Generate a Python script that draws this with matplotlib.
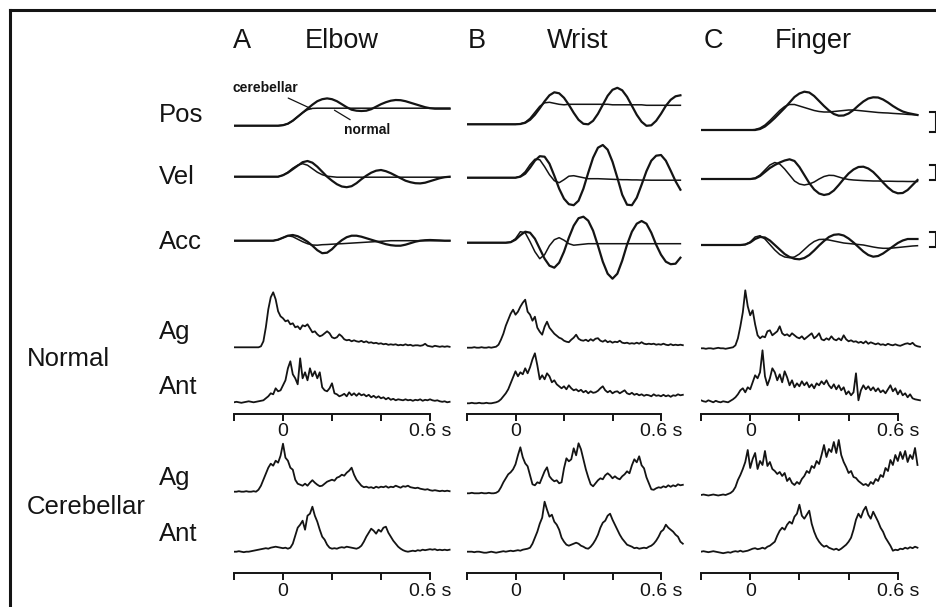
import numpy as np
import matplotlib.pyplot as plt
from matplotlib.lines import Line2D

plt.rcParams['font.family'] = ['Liberation Sans', 'DejaVu Sans']

# ---- kinematics, one sample every 20 ms starting at -0.2 s (amplitude, arbitrary units) ----
elbow_pos_normal = [0, 0, 0, 0, 0, 0, 0, 0, 0, 0,
                    0.5, 2, 5, 9, 13, 16, 17.3, 17.5, 17.5, 17.5, 17.5, 17.5, 17.5, 17.5, 17.5,
                    17.5, 17.5, 17.5, 17.5, 17.5, 17.5, 17.5, 17.5, 17.5, 17.5, 17.5, 17.5, 17.5,
                    17.5, 17.5, 17.5, 17.5, 17.5, 17.5, 17.5]
elbow_pos_cereb = [0, 0, 0, 0, 0, 0, 0, 0, 0, 0,
                   0.5, 2, 5, 9, 13, 17, 21, 24.5, 26.5, 27.3, 26.5, 24.5, 21.5, 18.5, 16,
                   15, 14.7, 15, 16.5, 19, 21.5, 23.5, 25, 25.7, 25.5, 24.5, 23, 21.5, 20,
                   18.5, 17.5, 17, 17, 17, 17]
elbow_vel_normal = [0, 0, 0, 0, 0, 0, 0, 0, 0, 0,
                    1.5, 4.5, 8.5, 11.5, 13, 11.5, 8, 4.5, 2, 0.5, 0, -0.5, -0.5, -0.5, -0.5,
                    -0.5, -0.5, -0.5, -0.5, -0.5, -0.5, -0.5, -0.5, -0.5, -0.5, -0.5, -0.5, -0.5,
                    -0.5, -0.5, -0.5, -0.5, -0.5, -0.5, -0.5]
elbow_vel_cereb = [0, 0, 0, 0, 0, 0, 0, 0, 0, 0,
                   1.5, 4, 7.5, 11, 14.5, 15.7, 14, 10, 5, 0, -4, -7.5, -9.8, -10.5, -9.5,
                   -6.5, -2.5, 1, 4, 6, 6.7, 5.5, 3.5, 1, -1.5, -4, -5.5, -6.5, -6.7,
                   -6, -4.5, -3, -1.5, -0.5, 0]
elbow_acc_normal = [0, 0, 0, 0, 0, 0, 0, 0, 0, 1,
                    3, 5, 4, 1.5, -1, -3, -4.3, -4.5, -4, -3.8, -3.5, -3.2, -3, -2.7, -2.4,
                    -2.1, -1.8, -1.5, -1.2, -0.9, -0.6, -0.3, 0, 0, 0, 0, 0, 0, 0,
                    0, 0, 0, 0, 0, 0]
elbow_acc_cereb = [0, 0, 0, 0, 0, 0, 0, 0, 0, 1,
                   3, 5, 5.7, 4.5, 2, -1, -5, -9.5, -12.5, -12, -8.5, -3.5, 0.5, 3.5, 5,
                   5, 4, 2.5, 1, -0.5, -2, -3.5, -4.5, -5, -5, -4, -2.5, -1, 0,
                   0.5, 0.7, 0.5, 0.3, 0, 0]

wrist_pos_normal = [0, 0, 0, 0, 0, 0, 0, 0, 0, 0,
                    0, 0.5, 2, 6, 12, 18, 21.5, 22, 21, 20, 19.5, 20, 20, 20, 20,
                    20, 20, 20, 20, 20, 19.5, 19.5, 19.5, 19.5, 19.5, 19.5, 19.5, 19, 19,
                    19, 19, 19, 19, 19, 19]
wrist_pos_cereb = [0, 0, 0, 0, 0, 0, 0, 0, 0, 0,
                   0, 0.3, 1.5, 4.5, 9.5, 16, 23, 29, 32, 31, 26.5, 19.5, 11.5, 4.5, 0.5,
                   0, 3.5, 10.5, 19.5, 28.5, 34.5, 36.5, 34, 27.5, 18.5, 9.5, 2.5, -1.5, -1,
                   3.5, 10.5, 18.5, 24.5, 28, 29]
wrist_vel_normal = [0, 0, 0, 0, 0, 0, 0, 0, 0, 0,
                    0, 1.5, 6, 13, 18.5, 18, 11, 3, -3, -5, -2, 1.5, 2, 1, 0,
                    -1, -1, -1, -1.2, -1.4, -1.6, -1.8, -2, -2, -2.2, -2.2, -2.4, -2.4, -2.5,
                    -2.5, -2.5, -2.5, -2.5, -2.5, -2.5]
wrist_vel_cereb = [0, 0, 0, 0, 0, 0, 0, 0, 0, 0,
                   0, 1, 4, 10, 17, 21.5, 21, 14, 2, -11, -21, -26.5, -27.5, -23, -11,
                   5, 20, 30, 32.7, 28, 16, 0, -17, -27, -27.5, -20, -7, 6.5, 17,
                   22, 22.7, 17, 7, -3.5, -12]
wrist_acc_normal = [0, 0, 0, 0, 0, 0, 0, 0, 0, 0.5,
                    4, 11, 10, 1, -9, -16, -12, -3, 3, 5, 2.5, -1, -2.5, -2, -1.5,
                    -1, -1, -1, -1, -1, -1, -1, -1, -1, -1, -1, -1, -1, -1,
                    -1, -1, -1, -1, -1, -1]
wrist_acc_cereb = [0, 0, 0, 0, 0, 0, 0, 0, 0, 0.5,
                   3, 7.5, 11, 10, 4, -6, -16, -23, -25, -20, -9, 5, 17, 24.5, 26,
                   22, 12, -3, -19, -31, -36, -31, -18, -2, 11, 19, 21.7, 19, 10,
                   -2, -12, -19, -21.5, -21, -15]

finger_pos_normal = [0, 0, 0, 0, 0, 0, 0, 0, 0, 0,
                     0, 0.5, 2, 5, 9.5, 14.5, 19.5, 23.5, 25.5, 25.5, 24, 22.5, 21, 19.5, 18.5,
                     18, 18, 18.5, 19, 19.5, 20, 20, 19.5, 19, 18.5, 18, 17.5, 17.2, 17,
                     16.6, 16.3, 16, 15.6, 15.3, 15]
finger_pos_cereb = [0, 0, 0, 0, 0, 0, 0, 0, 0, 0,
                    0, 0, 1, 3.5, 7.5, 12, 17, 22, 27.5, 33, 36.5, 38.3, 37.5, 34, 29,
                    24, 19.5, 16, 14.3, 14.5, 16.5, 20, 24.5, 28.5, 31.5, 32.7, 32.5, 30.5, 27.5,
                    24, 21, 18.5, 17, 16, 15]
finger_vel_normal = [0, 0, 0, 0, 0, 0, 0, 0, 0, 0,
                     0, 1, 4, 9, 14, 16.5, 15, 10, 4, -2, -5, -6, -5, -3, 0,
                     2.5, 3.7, 3.5, 2, 0.5, -0.5, -1, -1.3, -1.6, -1.8, -2, -2, -2.2, -2.2,
                     -2.3, -2.4, -2.4, -2.5, -2.5, -2.5]
finger_vel_cereb = [0, 0, 0, 0, 0, 0, 0, 0, 0, 0,
                    0, 0.5, 3, 7, 11, 14, 16.5, 18.5, 19.7, 18, 12, 4, -4, -10.5, -14.5,
                    -16, -15, -11.5, -6, 0, 5.5, 9.5, 12, 12.3, 10.5, 7, 2, -3.5, -8.5,
                    -12.5, -14.3, -14, -11, -6, -1]
finger_acc_normal = [0, 0, 0, 0, 0, 0, 0, 0, 0, 0.5,
                     3, 8, 9.3, 6, 0.5, -5, -9.5, -12, -12.7, -12, -9, -4.5, 0, 3.5, 5.5,
                     5.7, 5, 4, 3, 2, 1.5, 1, 0.5, 0, -1, -2, -2.8, -3.3, -3.3,
                     -3, -2.5, -2, -1.5, -1, -0.7]
finger_acc_cereb = [0, 0, 0, 0, 0, 0, 0, 0, 0, 0.5,
                    2.5, 6, 8, 7.5, 4.5, 0, -4.5, -9, -12, -13.8, -14.3, -13, -10, -5.5, -0.5,
                    4, 8, 10.2, 10.7, 9.5, 6.5, 2.5, -2, -6.5, -10, -11.7, -11, -8.5, -5,
                    -1.5, 2, 4.5, 6, 6, 6]

# ---- rectified EMG, one sample every 10 ms starting at -0.2 s ----
elbow_ag_normal = [0, 0, 0, 0, 0, 0, 0, 0, 0, 0, 0,
                   1, 6, 20, 38, 50, 55, 48, 36, 31, 29, 26, 27, 23, 24, 20, 21, 18, 22, 21,
                   23, 19, 15, 16, 13, 11, 12, 14, 16, 14, 10, 9, 10, 13, 11, 8, 7, 7.5, 6,
                   7, 6, 5.5, 6.5, 5, 6, 4.5, 5, 4, 4.5, 3.5, 4, 3, 3.5, 2.5, 3, 2.5, 3,
                   2, 2.5, 2, 3, 2, 2.5, 1.5, 2, 2, 1.5, 2, 3.5, 1.5, 1, 0.5, 1.5, 1, 0.5,
                   1, 0.5, 1, 0.5]
elbow_ant_normal = [0, 0.5, 0, -0.5, 0, 0.5, 1, 0.5, 0, 0.5, 1, 1.5,
                    2, 4, 6, 9, 8, 14, 11, 12, 17, 22, 34, 41, 28, 24, 18, 44, 24, 30,
                    22, 34, 26, 31, 24, 30, 15, 12, 11, 14, 19, 9, 8, 6, 7, 8.5, 6, 10, 7,
                    9, 6.5, 9, 7, 8, 6, 7.5, 5, 6.5, 4.5, 6, 4, 5, 3, 4.5, 2.5, 3.5, 2,
                    3, 2.5, 2, 3, 2, 2.5, 1.5, 2.5, 2, 3, 1.5, 2.5, 2, 3, 2, 1.5, 2, 1,
                    0.5, 1, 0, 0.5]
elbow_ag_cereb = [0, 0, 0.5, 0, 0, 0.5, 0, 0, 0.5, 0,
                  2, 6, 12, 18, 24, 28, 26, 31, 29, 36, 48, 34, 31, 24, 22, 12, 8, 7, 6,
                  8, 6, 9, 11.5, 9, 7, 5.5, 6, 8, 10, 11, 12, 11, 14, 15, 17, 16, 19, 21,
                  24, 17, 12, 9, 6, 4.5, 5, 4, 4.5, 3.5, 5, 4, 5, 4.5, 5.5, 4, 5, 4.5, 6,
                  5, 4, 5.5, 5, 6, 4.5, 4, 3.5, 4, 3, 2.5, 2, 2.5, 1.5, 1, 1.5, 1, 0.5,
                  1, 0.5, 1, 0.5]
elbow_ant_cereb = [0, 0, 0.5, 0, -0.5, 0, 0, 0.5, 1, 1.5, 2, 2.5, 3, 3.5, 3, 4, 4.5, 5,
                   4.5, 4,
                   3.5, 4, 3, 4, 8, 16, 24, 27, 31, 22, 36, 38, 45, 36, 30, 22, 15, 12, 7,
                   4, 3, 3.5, 3, 4, 4.5, 4, 5, 4.5, 4, 3.5, 3, 4, 6, 10, 15, 19, 23, 21,
                   18, 22, 20, 24, 25, 19, 15, 11, 8, 5, 3, 1.5, 0.5, 0, 0.5, 1, 0.5, 1.5,
                   1, 2, 1.5, 2, 2.5, 2, 2.5, 1.5, 2, 1.5, 2, 1.5, 2]

wrist_ag_normal = [0, 0, 0, 0.5, 0, 0, 0.5, 0, 0, 0.5, 0, 0.5, 1,
                   3, 8, 14, 22, 28, 34, 38, 33, 36, 41, 45, 48, 36, 33, 27, 31, 20, 16,
                   13, 21, 26, 20, 17, 14, 12, 10, 9, 7, 6, 5.5, 8, 10, 13, 9, 7.5, 7, 8,
                   6.5, 8.5, 7, 9, 9.5, 7, 6, 7.5, 5.5, 6.5, 5, 6, 5.5, 7, 5, 4.5, 5, 4,
                   4.5, 4, 5, 4, 5.5, 4, 3.5, 4, 3.5, 4, 3, 3.5, 3, 4, 3, 2.5, 3.5, 2.5,
                   3, 2.5, 3, 2.5]
wrist_ant_normal = [0, 0, 0.5, 0, 0, 0.5, 0, 0, 0.5, 0, 0, 0.5, 1, 2,
                    4, 7, 10, 14, 20, 26, 32, 27, 31, 29, 35, 30, 36, 44, 50, 38, 24, 28,
                    24, 30, 27, 21, 23, 19, 17, 15, 17, 14, 18, 15, 13, 14, 12, 13.5, 11,
                    12.5, 10, 12, 10.5, 11, 12.5, 15, 17, 13, 11, 12.5, 10, 11.5, 12, 10,
                    11.5, 13, 10, 9, 10.5, 8.5, 9.5, 8, 9, 7.5, 8.5, 8, 7, 9, 7.5, 8, 7,
                    8.5, 7, 8, 6.5, 8, 7.5, 9, 8, 8.5]
wrist_ag_cereb = [0, 0, 0.5, 0, 0, 0, 0.5, 0, 0, 0.5, 0, 0, 0.5,
                  2, 6, 11, 15, 19, 21, 24, 29, 38, 46, 36, 30, 27, 18, 9, 8, 11, 10, 16,
                  22, 26, 17, 14, 12, 13, 10, 11, 25, 35, 32, 34, 45, 38, 50, 44, 34, 24,
                  16, 9, 7, 10, 13, 15, 14, 18, 20, 18, 15, 17, 15, 14, 17, 19, 22, 20,
                  28, 34, 31, 37, 28, 25, 16, 10, 4, 3.5, 5, 6, 5.5, 7, 6, 8, 6.5, 8, 7,
                  9, 8, 8.5]
wrist_ant_cereb = [0, 0, 0, -0.5, 0, 0, -0.5, -1, -1, -0.5, 0, -0.5, -1, -0.5, 0, 0.5,
                   0, 0.5, 1, 0.5, 1, 1.5, 1, 2, 2.5, 3,
                   4, 8, 14, 20, 28, 34, 50, 42, 35, 37, 30, 27, 22, 14, 10, 7, 6, 7, 8,
                   9, 8, 6, 5, 3.5, 3, 5, 8, 12, 17, 24, 29, 31, 36, 38, 32, 27, 22, 17,
                   13, 10, 7, 6, 5, 3.5, 4, 3, 3.5, 4, 3.5, 5, 6, 8, 11, 15, 20, 22, 27,
                   24, 22, 20, 17, 15, 10, 8]

finger_ag_normal = [0, 0, -0.5, 0, 0, -0.5, 0, 0.5, 0, 0, -0.5, 0, 0.5, 1,
                    3, 10, 22, 36, 58, 42, 33, 38, 24, 13, 10, 12, 11, 17, 18, 13, 15, 17,
                    22, 15, 13, 14, 12, 15, 13, 11, 10, 12, 9, 11, 13, 15, 10, 12, 15, 9,
                    8, 10, 8.5, 12, 9, 8, 10, 8, 13, 9, 7, 8, 6.5, 7, 5.5, 6.5, 5, 7, 4.5,
                    6, 5, 4, 5, 3.5, 4, 3, 4.5, 3.5, 3, 4, 3, 2.5, 3.5, 4.5, 5, 4, 5.5, 3,
                    2, 1.5]
finger_ant_normal = [2, 1, 0.5, 2, 1, 0, 1.5, 0.5, 0, 1, 0.5, 0, 1.5, 3,
                     5, 8, 12, 14, 10, 15, 13, 20, 27, 24, 30, 52, 26, 17, 24, 34, 30, 22,
                     28, 20, 31, 25, 17, 22, 15, 19, 16, 21, 17, 20, 15, 18, 14, 19, 17,
                     21, 18, 22, 17, 14, 18, 13, 17, 12, 15, 8, 11, 7, 10, 29, 2, 12, 17,
                     13, 16, 12, 15, 11, 14, 10, 12, 9, 13, 17, 11, 14, 8, 12, 7, 9, 5, 8,
                     4, 3, 2.5, 2]
finger_ag_cereb = [0, 0.5, 0, -0.5, 0, 0.5, 0, -0.5, 0, 0.5, 0, 1, 2,
                   4, 8, 15, 20, 26, 33, 45, 27, 36, 42, 26, 34, 30, 44, 29, 33, 26, 24,
                   21, 23, 19, 22, 14, 17, 12, 10, 13, 11, 16, 19, 24, 22, 29, 27, 34, 31,
                   40, 50, 38, 46, 43, 53, 42, 55, 40, 33, 28, 22, 24, 18, 17, 14, 12, 10,
                   11, 9, 13, 11, 16, 14, 20, 18, 27, 24, 35, 30, 40, 34, 43, 36, 44, 33,
                   40, 36, 47, 30]
finger_ant_cereb = [0, 0.5, 0, -0.5, 0, 0.5, 0, -0.5, -1, -1.5, -1, -0.5, -1, 0, 0.5, 0,
                    1, 0, 0.5, 1, 2, 3,
                    3.5, 2.5, 3, 4, 3, 5, 6, 8, 10, 16, 21, 24, 22, 27, 30, 28, 35, 38, 47,
                    36, 33, 37, 41, 28, 20, 14, 10, 7, 5, 6, 4, 3, 2, 3, 1.5, 3, 5, 7, 10,
                    14, 22, 32, 38, 34, 41, 45, 37, 33, 40, 35, 30, 24, 20, 14, 10, 6, 1,
                    2, 1.5, 3, 2.5, 4, 3, 4.5, 3.5, 5, 4]

letters = ['A', 'B', 'C']
joints = ['Elbow', 'Wrist', 'Finger']
kin_names = ['Pos', 'Vel', 'Acc']
kinematics = [
    [(elbow_pos_normal, elbow_pos_cereb), (elbow_vel_normal, elbow_vel_cereb),
     (elbow_acc_normal, elbow_acc_cereb)],
    [(wrist_pos_normal, wrist_pos_cereb), (wrist_vel_normal, wrist_vel_cereb),
     (wrist_acc_normal, wrist_acc_cereb)],
    [(finger_pos_normal, finger_pos_cereb), (finger_vel_normal, finger_vel_cereb),
     (finger_acc_normal, finger_acc_cereb)],
]
emg = [
    [elbow_ag_normal, elbow_ant_normal, elbow_ag_cereb, elbow_ant_cereb],
    [wrist_ag_normal, wrist_ant_normal, wrist_ag_cereb, wrist_ant_cereb],
    [finger_ag_normal, finger_ant_normal, finger_ag_cereb, finger_ant_cereb],
]

# ---- layout (pixels) ----
W, H = 937, 607
col_left = [234, 467, 701]          # x of t = -0.2 s
col_scale = [245, 242.5, 246]       # px per second
kin_base = [[125.7, 176.7, 240.7], [124.3, 177.7, 242.7], [130, 179, 245]]
emg_base = [[347.3, 402.3, 491.7, 551.7], [347.7, 403.3, 493.3, 551.7],
            [348.3, 402.3, 495, 551.7]]
time_axis_y = [413.5, 573]
INK = '#141414'

fig = plt.figure(figsize=(W / 100, H / 100), dpi=100)


def trace_axes(c, base):
    ax = fig.add_axes([col_left[c] / W, 1 - (base + 60) / H,
                       0.9 * col_scale[c] / W, 120 / H])
    ax.set_xlim(-0.2, 0.7)
    ax.set_ylim(-60, 60)
    ax.axis('off')
    return ax


pos_axes_a = None
for c in range(3):
    for r in range(3):
        ax = trace_axes(c, kin_base[c][r])
        normal, cereb = kinematics[c][r]
        t_n = -0.2 + 0.02 * np.arange(len(normal))
        t_c = -0.2 + 0.02 * np.arange(len(cereb))
        ax.plot(t_n, normal, color=INK, lw=1.1)
        ax.plot(t_c, cereb, color=INK, lw=1.6)
        if c == 0 and r == 0:
            pos_axes_a = ax
        if c == 2:
            # calibration bars
            lo, hi = [(-1.5, 18.5), (-1, 14), (-1.7, 13.3)][r]
            ax.plot([0.73, 0.755, 0.755, 0.73], [lo, lo, hi, hi], color=INK,
                    lw=1.5, clip_on=False)
    for r in range(4):
        ax = trace_axes(c, emg_base[c][r])
        y = emg[c][r]
        t = -0.2 + 0.01 * np.arange(len(y))
        ax.plot(t, y, color=INK, lw=1.3)
    for ty in time_axis_y:
        ax = fig.add_axes([col_left[c] / W, 1 - (ty + 10) / H,
                           0.9 * col_scale[c] / W, 10 / H])
        ax.set_xlim(-0.2, 0.7)
        ax.set_ylim(0, 1)
        ax.patch.set_visible(False)
        for s in ['top', 'left', 'right']:
            ax.spines[s].set_visible(False)
        ax.spines['bottom'].set_bounds(-0.2, 0.6)
        ax.spines['bottom'].set_position(('axes', 1.0))
        ax.spines['bottom'].set_linewidth(1.4)
        ax.spines['bottom'].set_color(INK)
        ax.set_yticks([])
        ax.set_xticks([-0.2, 0, 0.2, 0.4, 0.6])
        ax.set_xticklabels(['', '0', '', '', '0.6 s'])
        ax.tick_params(axis='x', direction='out', length=5, width=1.4,
                       color=INK, labelsize=14, pad=2, labelcolor=INK)

# legend-like annotations on the elbow position traces
pos_axes_a.annotate('cerebellar', xy=(0.115, 17), xytext=(-0.07, 38),
                    ha='center', va='center', fontsize=10, fontweight='bold',
                    color=INK, annotation_clip=False,
                    arrowprops=dict(arrowstyle='-', color=INK, lw=0.9,
                                    shrinkA=1, shrinkB=0))
pos_axes_a.annotate('normal', xy=(0.21, 15.5), xytext=(0.345, -4.5),
                    ha='center', va='center', fontsize=10, fontweight='bold',
                    color=INK, annotation_clip=False,
                    arrowprops=dict(arrowstyle='-', color=INK, lw=0.9,
                                    shrinkA=1, shrinkB=0))

# column titles
title_x = [(242, 342), (477, 578), (713, 813)]
for (lx, jx), letter, joint in zip(title_x, letters, joints):
    fig.text(lx / W, 1 - 41 / H, letter, ha='center', va='center',
             fontsize=19.5, color=INK)
    fig.text(jx / W, 1 - 41 / H, joint, ha='center', va='center',
             fontsize=19.5, color=INK)

# row labels
row_labels = [('Pos', 115), ('Vel', 177), ('Acc', 242),
              ('Ag', 332), ('Ant', 387), ('Ag', 478), ('Ant', 534)]
for text, y in row_labels:
    fig.text(159 / W, 1 - y / H, text, ha='left', va='center',
             fontsize=18.5, color=INK)
fig.text(27 / W, 1 - 359 / H, 'Normal', ha='left', va='center',
         fontsize=18.5, color=INK)
fig.text(27 / W, 1 - 507 / H, 'Cerebellar', ha='left', va='center',
         fontsize=18.5, color=INK)

# frame (top and left edges)
fig.add_artist(Line2D([10 / W, 10 / W], [0, 1 - 10 / H], color=INK, lw=2.2,
                      transform=fig.transFigure))
fig.add_artist(Line2D([10 / W, 1], [1 - 10 / H, 1 - 10 / H], color=INK, lw=2.2,
                      transform=fig.transFigure))

fig.savefig('out.png', dpi=100, facecolor='white')
